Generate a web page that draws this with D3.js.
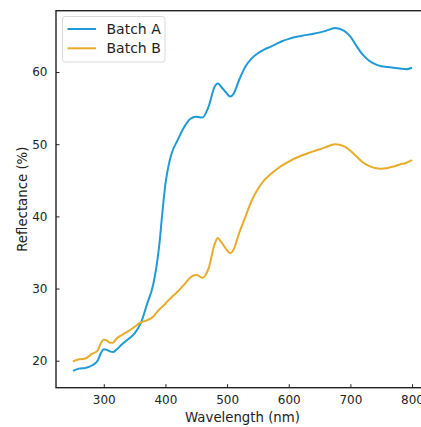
<!DOCTYPE html>
<html>
<head>
<meta charset="utf-8">
<script src="https://cdn.jsdelivr.net/npm/d3@7"></script>
<style>
  html, body { margin: 0; padding: 0; background: #fff; }
  svg { display: block; }
  text { font-family: "DejaVu Sans", sans-serif; fill: #222; }
</style>
</head>
<body>
<svg id="chart" width="421" height="427"></svg>
<script>
const wavelengths = [250,260,270,280,290,295,300,305,310,315,320,330,340,350,360,370,380,385,390,395,400,405,410,420,430,440,450,460,470,480,485,490,500,505,510,520,530,540,550,560,570,580,590,600,620,640,660,675,690,700,710,720,730,740,750,760,770,780,790,800];
const batchA = [18.6,18.9,19.0,19.3,20.0,21.0,21.6,21.5,21.3,21.2,21.5,22.3,23.0,23.8,25.2,27.8,30.5,32.8,36.0,40.5,44.5,47.0,48.7,50.6,52.3,53.5,53.8,53.7,55.2,58.0,58.4,58.0,57.0,56.6,56.9,59.0,60.8,61.9,62.6,63.1,63.5,63.9,64.3,64.6,65.0,65.3,65.7,66.1,65.7,64.9,63.6,62.4,61.6,61.1,60.8,60.7,60.6,60.5,60.4,60.6];
const batchB = [19.9,20.2,20.3,20.9,21.4,22.4,22.9,22.8,22.5,22.5,23.0,23.6,24.1,24.7,25.3,25.6,26.1,26.6,27.1,27.5,27.9,28.4,28.8,29.6,30.5,31.5,31.9,31.5,32.8,36.2,37.0,36.5,35.3,34.9,35.3,37.8,40.0,42.2,43.8,45.0,45.8,46.5,47.1,47.6,48.4,49.0,49.6,50.0,49.7,49.1,48.3,47.5,47.0,46.7,46.6,46.7,46.9,47.2,47.4,47.8];
const seriesNames = ["Batch A", "Batch B"];
const seriesColors = ["#1f9ad6", "#e8ab2a"];
const xTicks = [300,400,500,600,700,800];
const yTicks = [20,30,40,50,60];
const xLabel = "Wavelength (nm)";
const yLabel = "Reflectance (%)";

const svg = d3.select("#chart");
const pLeft = 56, pRight = 429, pTop = 10.7, pBottom = 387.7;
const x = d3.scaleLinear().domain([222.5, 827.5]).range([pLeft, pRight]);
const y = d3.scaleLinear().domain([16.26, 68.5]).range([pBottom, pTop]);

const clipId = "plotclip";
svg.append("defs").append("clipPath").attr("id", clipId)
  .append("rect").attr("x", pLeft).attr("y", pTop).attr("width", pRight - pLeft).attr("height", pBottom - pTop);

const series = [batchA, batchB];
const line = d3.line().x(d => x(d[0])).y(d => y(d[1])).curve(d3.curveMonotoneX);
const g = svg.append("g").attr("clip-path", `url(#${clipId})`);
series.forEach((vals, i) => {
  g.append("path")
    .datum(wavelengths.map((w, j) => [w, vals[j]]))
    .attr("fill", "none")
    .attr("stroke", seriesColors[i])
    .attr("stroke-width", 2)
    .attr("stroke-linejoin", "round")
    .attr("d", line);
});

// axes
const xAxis = d3.axisBottom(x).tickValues(xTicks).tickSizeInner(-3.5).tickSizeOuter(0).tickPadding(8);
const yAxis = d3.axisLeft(y).tickValues(yTicks).tickSizeInner(-3.5).tickSizeOuter(0).tickPadding(8.5);
const gx = svg.append("g").attr("transform", `translate(0,${pBottom})`).call(xAxis);
const gy = svg.append("g").attr("transform", `translate(${pLeft},0)`).call(yAxis);
[gx, gy].forEach(ax => {
  ax.select(".domain").remove();
  ax.selectAll(".tick line").attr("stroke", "#222").attr("stroke-width", 1);
  ax.selectAll(".tick text").attr("font-size", "12px").attr("font-family", "DejaVu Sans, sans-serif").attr("fill", "#222");
});

// frame
svg.append("rect").attr("x", pLeft).attr("y", pTop).attr("width", pRight - pLeft).attr("height", pBottom - pTop)
  .attr("fill", "none").attr("stroke", "#222").attr("stroke-width", 1.4);

// axis labels
svg.append("text").attr("x", (pLeft + pRight) / 2).attr("y", 422).attr("text-anchor", "middle")
  .attr("font-size", "13.3px").text(xLabel);
svg.append("text").attr("transform", `translate(27,${(pTop + pBottom) / 2}) rotate(-90)`).attr("text-anchor", "middle")
  .attr("font-size", "13.3px").text(yLabel);

// legend
const lg = svg.append("g");
lg.append("rect").attr("x", 62.5).attr("y", 16.5).attr("width", 102.5).attr("height", 45.5).attr("rx", 2.5)
  .attr("fill", "#fff").attr("fill-opacity", 0.85).attr("stroke", "#d8d8d8").attr("stroke-width", 1);
seriesNames.forEach((name, i) => {
  const yy = 29 + i * 19.3;
  lg.append("line").attr("x1", 67.5).attr("x2", 96).attr("y1", yy).attr("y2", yy)
    .attr("stroke", seriesColors[i]).attr("stroke-width", 2);
  lg.append("text").attr("x", 106.5).attr("y", yy).attr("dy", "0.36em").attr("font-size", "14px").text(name);
});
</script>
</body>
</html>
